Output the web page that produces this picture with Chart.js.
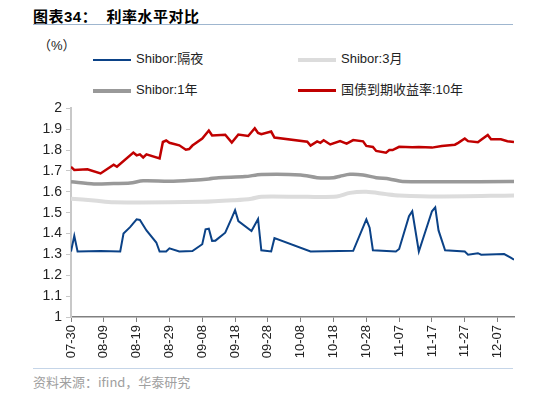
<!DOCTYPE html>
<html>
<head>
<meta charset="utf-8">
<script src="https://cdn.jsdelivr.net/npm/chart.js@4"></script>
<style>
  body { margin: 0; width: 535px; height: 393px; background: #fff; position: relative; overflow: hidden;
         font-family: "Liberation Sans", Arial, "Noto Sans CJK SC", sans-serif; }
  .title { position: absolute; left: 33px; top: 5px; font: bold 15px "Liberation Sans", "Noto Sans CJK SC", sans-serif; color: #000; letter-spacing: 0.5px; }
  .rule { position: absolute; left: 33px; width: 480px; height: 1px; }
  .unit { position: absolute; left: 38px; top: 35px; font-size: 13px; color: #222; }
  .leg { position: absolute; font-size: 13px; color: #222; white-space: nowrap; }
  .leg i { display: inline-block; width: 38px; vertical-align: middle; margin-right: 5px; }
  .src { position: absolute; left: 33px; top: 372px; font-size: 13px; color: #a0a0a0; font-family: "Noto Sans CJK SC", sans-serif; }
  #wrap { position: absolute; left: 0; top: 96px; width: 535px; height: 265px; }
</style>
</head>
<body>
<div class="title">图表34：&nbsp; 利率水平对比</div>
<div class="rule" style="top:24px;background:#9fb6cf"></div>
<div class="unit">（%）</div>
<div class="leg" style="left:93px;top:48px"><i style="height:2px;background:#0b4287"></i>Shibor:隔夜</div>
<div class="leg" style="left:298px;top:48px"><i style="height:4px;background:#dcdcdc"></i>Shibor:3月</div>
<div class="leg" style="left:93px;top:79px"><i style="height:4px;background:#999"></i>Shibor:1年</div>
<div class="leg" style="left:298px;top:79px"><i style="height:3px;background:#c00000"></i>国债到期收益率:10年</div>
<div id="wrap"><canvas id="chart"></canvas></div>
<div class="rule" style="top:368px;background:#c5d5e8"></div>
<div class="src">资料来源：ifind，华泰研究</div>

<script>
// tick labels on the x axis (every 10 calendar days)
let tickLabels = ['07-30', '08-09', '08-19', '08-29', '09-08', '09-18', '09-28',
  '10-08', '10-18', '10-28', '11-07', '11-17', '11-27', '12-07']

// Shibor overnight
let onDates = ['07-30','07-31','08-01','08-08','08-14','08-15','08-17','08-19','08-20','08-22',
  '08-25','08-26','08-28','08-29','09-01','09-05','09-08','09-09','09-10','09-11','09-12',
  '09-15','09-17','09-18','09-19','09-23','09-25','09-26','09-29','09-30','10-11','10-24',
  '10-28','10-29','10-30','11-06','11-07','11-10','11-11','11-13','11-17','11-18','11-19',
  '11-21','11-27','11-28','12-01','12-02','12-09','12-11','12-12']
let onVals = [1.314,1.389,1.314,1.316,1.314,1.4,1.431,1.468,1.465,1.415,
  1.357,1.314,1.314,1.329,1.314,1.316,1.349,1.42,1.423,1.365,1.366,
  1.404,1.475,1.512,1.46,1.412,1.47,1.32,1.314,1.378,1.314,1.317,
  1.468,1.428,1.32,1.314,1.326,1.483,1.507,1.314,1.507,1.526,1.415,
  1.32,1.314,1.299,1.306,1.299,1.302,1.285,1.275]

// Shibor 3M
let m3Dates = ['07-30','08-06','08-12','09-08','09-18','09-23','09-26','10-10','10-19','10-23',
  '10-28','11-03','11-07','11-19','12-12']
let m3Vals = [1.567,1.559,1.55,1.552,1.56,1.567,1.577,1.576,1.578,1.595,
  1.6,1.589,1.583,1.578,1.583]

// Shibor 1Y
let y1Dates = ['07-30','08-06','08-12','08-17','08-21','08-29','09-05','09-10','09-13','09-21',
  '09-26','10-08','10-13','10-18','10-20','10-23','10-27','10-31','11-04','11-08','12-12']
let y1Vals = [1.649,1.638,1.64,1.642,1.653,1.651,1.656,1.662,1.668,1.673,
  1.683,1.681,1.668,1.668,1.675,1.684,1.681,1.668,1.662,1.65,1.649]

// 10Y government bond yield
let gbDates = ['07-30','07-31','08-04','08-08','08-12','08-13','08-18','08-19','08-20','08-21',
  '08-22','08-26','08-27','08-28','08-29','09-01','09-03','09-04','09-05','09-08','09-10',
  '09-11','09-15','09-17','09-19','09-22','09-24','09-25','09-26','09-29','09-30','10-10',
  '10-11','10-13','10-14','10-15','10-17','10-20','10-22','10-24','10-27','10-28','10-30',
  '10-31','11-03','11-04','11-05','11-07','11-11','11-13','11-17','11-20','11-24','11-25',
  '11-27','11-28','12-01','12-02','12-04','12-05','12-08','12-10','12-12']
let gbVals = [1.72,1.705,1.708,1.688,1.73,1.72,1.788,1.775,1.78,1.765,
  1.78,1.76,1.839,1.846,1.835,1.823,1.802,1.805,1.822,1.855,1.894,
  1.87,1.874,1.836,1.875,1.868,1.905,1.882,1.876,1.889,1.86,1.84,
  1.822,1.842,1.835,1.847,1.827,1.843,1.831,1.848,1.842,1.82,1.815,
  1.796,1.788,1.8,1.8,1.816,1.814,1.815,1.812,1.82,1.826,1.835,
  1.856,1.843,1.838,1.85,1.873,1.852,1.852,1.843,1.839]

const start = Date.UTC(2025, 6, 30)
function dayOf(md) {
  let [m, d] = md.split('-').map(Number)
  return Math.round((Date.UTC(2025, m - 1, d) - start) / 86400000)
}
function pts(dates, vals) {
  return dates.map((d, i) => ({ x: dayOf(d), y: vals[i] }))
}

let lineChart = new Chart(document.getElementById('chart'), {
  type: 'line',
  data: {
    datasets: [
      { label: 'Shibor:隔夜', data: pts(onDates, onVals), borderColor: '#0b4287', borderWidth: 2, tension: 0 },
      { label: 'Shibor:3月', data: pts(m3Dates, m3Vals), borderColor: '#dcdcdc', borderWidth: 4, tension: 0.3 },
      { label: 'Shibor:1年', data: pts(y1Dates, y1Vals), borderColor: '#999999', borderWidth: 3.5, tension: 0.3 },
      { label: '国债到期收益率:10年', data: pts(gbDates, gbVals), borderColor: '#c00000', borderWidth: 2.5, tension: 0 }
    ]
  },
  options: {
    responsive: true,
    maintainAspectRatio: false,
    animation: false,
    events: [],
    elements: { point: { radius: 0 } },
    layout: { padding: { left: 0, right: 21, top: 10, bottom: 0 } },
    plugins: { legend: { display: false }, tooltip: { enabled: false } },
    scales: {
      x: {
        type: 'linear',
        min: 0,
        max: 135,
        afterBuildTicks: (s) => { s.ticks = tickLabels.map(t => ({ value: dayOf(t) })) },
        afterFit: (s) => { s.height = 44 },
        ticks: {
          autoSkip: false,
          maxRotation: 90,
          minRotation: 90,
          padding: 3,
          color: '#222',
          font: { family: 'Liberation Sans', size: 13 },
          callback: (v) => tickLabels.find(t => dayOf(t) === v) || ''
        },
        grid: { drawOnChartArea: false, tickLength: 5, color: '#808080' },
        border: { color: '#808080', width: 1.5 }
      },
      y: {
        min: 1,
        max: 2,
        afterFit: (s) => { s.width = 71 },
        ticks: {
          stepSize: 0.1,
          padding: 4,
          color: '#222',
          font: { family: 'Liberation Sans', size: 14 },
          callback: (v) => String(Number(v.toFixed(1)))
        },
        grid: { drawOnChartArea: false, tickLength: 5, color: '#c8c8c8' },
        border: { color: '#c8c8c8', width: 2 }
      }
    }
  }
})
</script>
</body>
</html>
